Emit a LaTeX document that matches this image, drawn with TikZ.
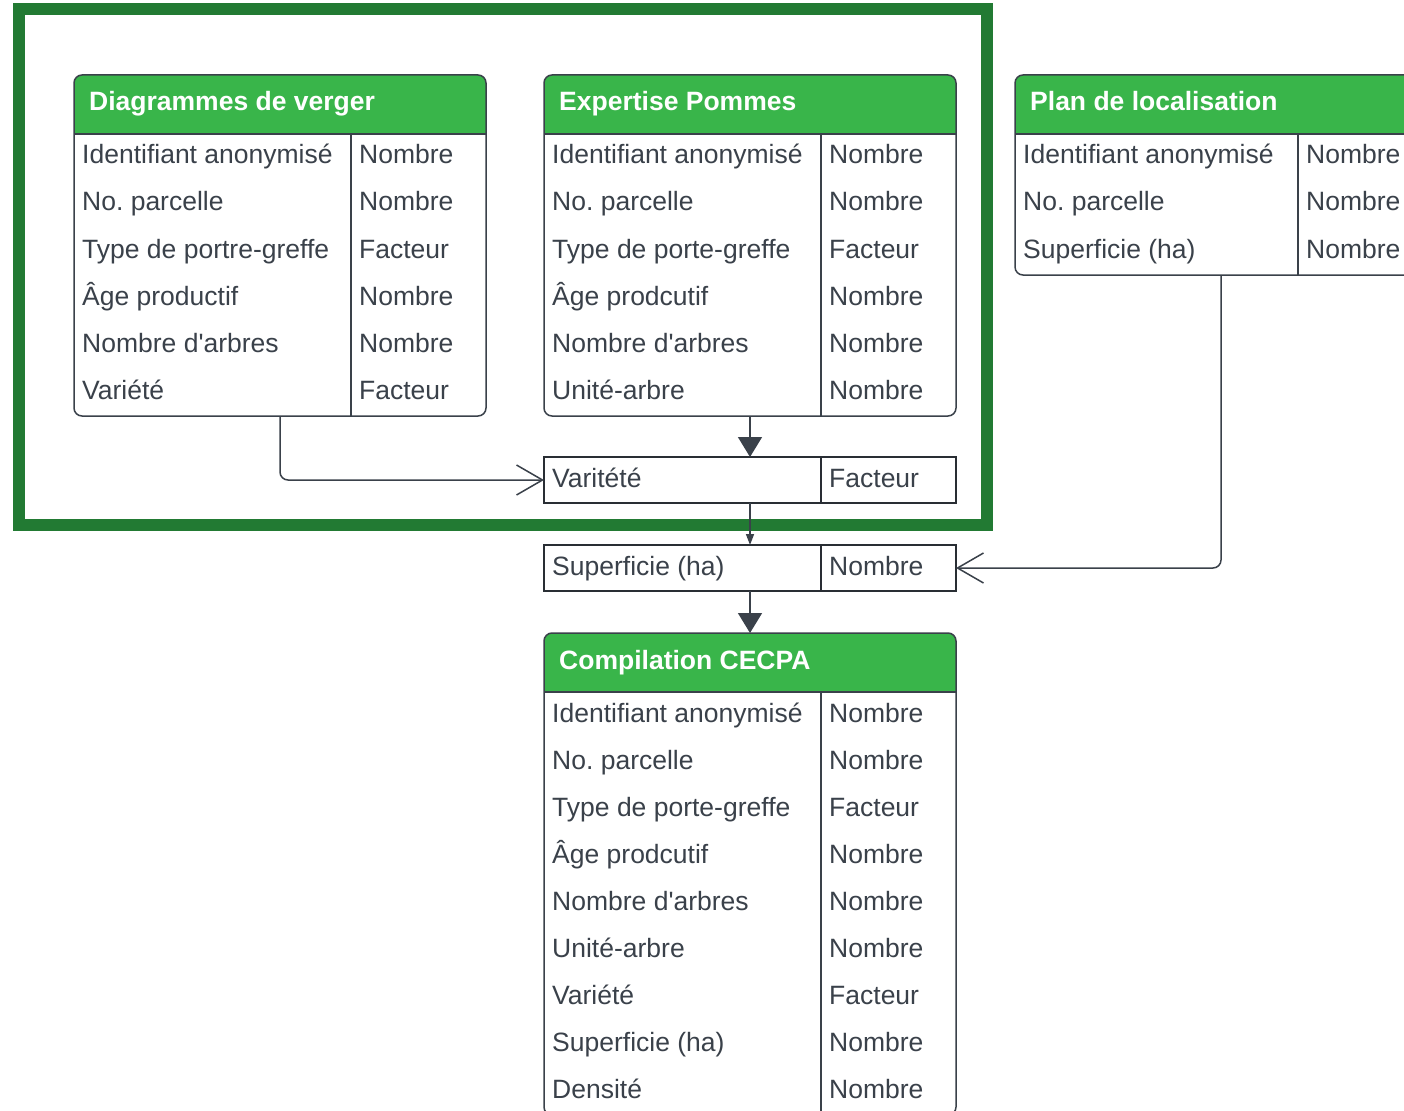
\documentclass[tikz,border=0pt]{standalone}
\usepackage{fontspec}
\setmainfont{Liberation Sans}
\usetikzlibrary{arrows.meta}
\definecolor{hdr}{HTML}{39B54A}
\definecolor{grpframe}{HTML}{227A33}
\definecolor{ink}{HTML}{3A414A}
\frenchspacing
\tikzset{
  tbl/.style={draw=ink, line width=1.5pt, rounded corners=8pt, rectangle, inner sep=0pt, outer sep=0pt, anchor=north west},
  rowbox/.style={draw=ink!70!black, line width=1.5pt, rectangle, inner sep=0pt, outer sep=0pt, anchor=north west, minimum width=412pt, minimum height=46pt},
  cell/.style={anchor=base west, inner sep=0pt, text=ink, font=\fontsize{26.5}{30}\selectfont},
  hdrtext/.style={anchor=base west, inner sep=0pt, text=white, font=\bfseries\fontsize{26.5}{30}\selectfont},
  conn/.style={draw=ink, line width=1.5pt, rounded corners=8pt},
  manytip/.style={-{Straight Barb[length=26pt,width=30pt]}},
  onetip/.style={-{Triangle[length=20pt,width=24pt]}},
  smalltip/.style={-{Triangle[length=11pt,width=8pt]}},
}
% #1 name, #2 x, #3 y, #4 title, #5 nrows, #6 divider offset, #7 rows
\newcommand\erTable[7]{%
  \fill[hdr] (#2,#3+59) [rounded corners=8pt] -- (#2,#3) -- (#2+412,#3) [sharp corners] -- (#2+412,#3+59) -- cycle;
  \node[tbl, minimum width=412pt, minimum height={(59+#5*47)*1pt}] (#1) at (#2,#3) {};
  \draw[ink, line width=1.5pt] (#2,#3+59) -- (#2+412,#3+59);
  \draw[ink, line width=1.5pt] (#2+#6,#3+59) -- (#2+#6,#3+59+#5*47);
  \node[hdrtext] (#1-title) at (#2+15,#3+36) {#4};
  \foreach [count=\i] \a/\b in {#7} {
    \node[cell] (#1-a\i) at (#2+8,#3+59+30+\i*47-47) {\a};
    \node[cell] (#1-b\i) at (#2+#6+8,#3+59+30+\i*47-47) {\b};
  }
}
\begin{document}
\begin{tikzpicture}[x=1pt,y=-1pt]
\useasboundingbox (0,0) rectangle (1404,1110);
\clip (0,0) rectangle (1404,1110);
\fill[white] (0,0) rectangle (1404,1110);
% group frame
\node[draw=grpframe, line width=12pt, rectangle, inner sep=0pt, outer sep=0pt, anchor=north west,
      minimum width=968pt, minimum height=516pt] (grp) at (19,9) {};
\erTable{dv}{74}{75}{Diagrammes de verger}{6}{277}{%
  Identifiant anonymisé/Nombre, No. parcelle/Nombre, Type de portre-greffe/Facteur,
  Âge productif/Nombre, Nombre d\textquotesingle arbres/Nombre, Variété/Facteur}
\erTable{ep}{544}{75}{Expertise Pommes}{6}{277}{%
  Identifiant anonymisé/Nombre, No. parcelle/Nombre, Type de porte-greffe/Facteur,
  Âge prodcutif/Nombre, Nombre d\textquotesingle arbres/Nombre, Unité-arbre/Nombre}
\erTable{pl}{1015}{75}{Plan de localisation}{3}{283}{%
  Identifiant anonymisé/Nombre, No. parcelle/Nombre, Superficie (ha)/Nombre}
\erTable{cc}{544}{633}{Compilation CECPA}{9}{277}{%
  Identifiant anonymisé/Nombre, No. parcelle/Nombre, Type de porte-greffe/Facteur,
  Âge prodcutif/Nombre, Nombre d\textquotesingle arbres/Nombre, Unité-arbre/Nombre,
  Variété/Facteur, Superficie (ha)/Nombre, Densité/Nombre}
% key boxes
\node[rowbox] (v) at (544,457) {};
\draw[ink!70!black, line width=1.5pt] (821,457) -- (821,503);
\node[cell] (v-a) at (552,487) {Varitété};
\node[cell] (v-b) at (829,487) {Facteur};
\node[rowbox] (s) at (544,545) {};
\draw[ink!70!black, line width=1.5pt] (821,545) -- (821,591);
\node[cell] (s-a) at (552,575) {Superficie (ha)};
\node[cell] (s-b) at (829,575) {Nombre};
% connectors
\draw[conn, manytip] (dv.south) |- (v.west);
\draw[conn, onetip] (ep.south) -- (v.north);
\draw[conn, smalltip] (v.south) -- (s.north);
\draw[conn, onetip] (s.south) -- (cc.north);
\draw[conn, manytip] (pl.south) |- (s.east);
\end{tikzpicture}
\end{document}
